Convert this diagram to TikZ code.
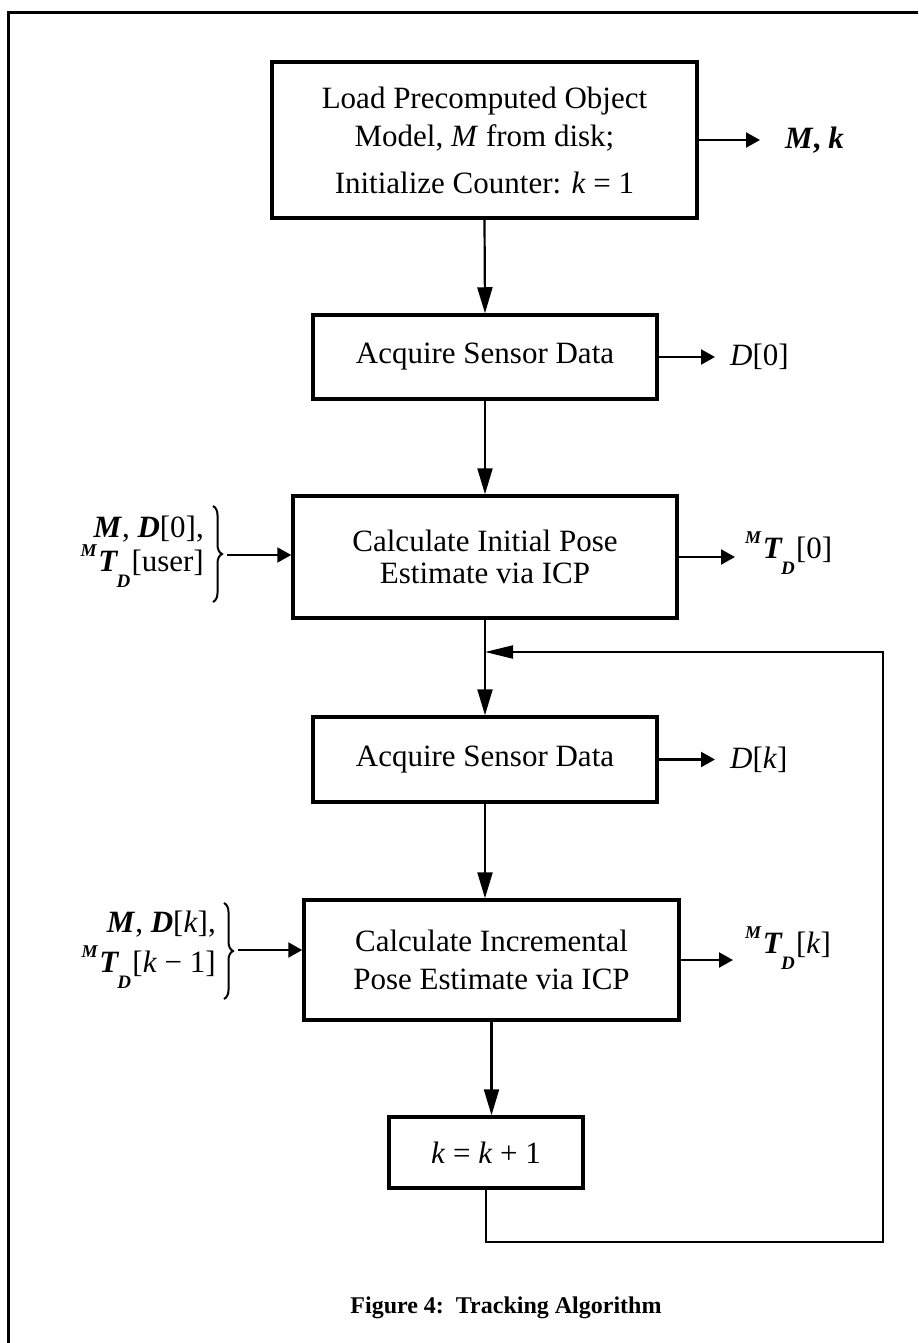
\documentclass[tikz,border=0pt]{standalone}
\usepackage{fontspec}
\setmainfont{Liberation Serif}
\usetikzlibrary{arrows.meta,decorations.pathreplacing}

% pose symbol with superscript M and subscript D
\newcommand{\posesym}[1]{\raisebox{.5em}{\fontsize{18}{18}\selectfont\textbf{\textit{M}}}\kern.04em\textbf{\textit{T}}\kern-.06em\raisebox{-.5em}{\fontsize{19}{19}\selectfont\textbf{\textit{D}}}\kern.04em[#1]}

\begin{document}
\begin{tikzpicture}[x=1pt, y=-1pt,
  every node/.style={font=\fontsize{31}{38}\selectfont, inner sep=0pt},
  stage/.style={draw, line width=3.5pt, align=center},
  flow/.style={line width=2.2pt, -{Triangle[length=26pt,width=15pt]}},
  outflow/.style={line width=2.2pt, -{Triangle[length=14pt,width=15pt]}},
  backflow/.style={line width=2pt, -{Triangle[length=28pt,width=13pt]}},
  curly/.style={decorate, decoration={brace, amplitude=9pt}, line width=2pt}]

\useasboundingbox (0,0) rectangle (918,1343);

% Frame
\draw[line width=3pt] (918,13) -- (8,13) -- (8,1343);

% Stages of the tracking loop
\node[stage, minimum width=425pt, minimum height=156pt] (load) at (484.5,140)
  {Load Precomputed Object\\Model, \textit{M} from disk;\\[9pt]Initialize Counter: \textit{k} = 1};
\node[stage, minimum width=344pt, minimum height=84pt] (acq0) at (485,357) {Acquire Sensor Data};
\node[stage, minimum width=384pt, minimum height=122pt, font=\fontsize{31}{32}\selectfont] (init) at (485,557)
  {Calculate Initial Pose\\Estimate via ICP};
\node[stage, minimum width=344pt, minimum height=85pt] (acqk) at (485,759.5) {Acquire Sensor Data};
\node[stage, minimum width=375pt, minimum height=120pt] (incr) at (491.5,960)
  {Calculate Incremental\\Pose Estimate via ICP};
\node[stage, minimum width=194pt, minimum height=71pt] (kinc) at (486,1152.5) {\textit{k} = \textit{k} + 1};

% Outputs
\node[anchor=west] (outMk) at (785,140) {\textbf{\textit{M}, \textit{k}}};
\node[anchor=west] (outD0) at (730,357) {\textit{D}[0]};
\node[anchor=west] (outT0) at (745,553) {\posesym{0}};
\node[anchor=west] (outDk) at (730,760) {\textit{D}[\textit{k}]};
\node[anchor=west] (outTk) at (745,948) {\posesym{\textit{k}}};

% Inputs
\node[anchor=east, align=right, font=\fontsize{31}{34}\selectfont] (inInit) at (204,552)
  {\textbf{\textit{M}}, \textbf{\textit{D}}[0],\\\posesym{user}};
\node[anchor=east, align=right, font=\fontsize{31}{40}\selectfont] (inIncr) at (216,950)
  {\textbf{\textit{M}}, \textbf{\textit{D}}[\textit{k}],\\\posesym{\textit{k} − 1}};
\draw[curly] (213,506) -- (213,602);
\draw[curly] (224,903) -- (224,999);
\coordinate (tipInit) at (227,555);
\coordinate (tipIncr) at (238,950);

% Main flow
\draw[flow] (load.south) -- (acq0.north);
\draw[flow] (acq0.south) -- (init.north);
\draw[flow] (init.south) -- (acqk.north);
\draw[flow] (acqk.south) -- (acqk.south |- incr.north);
\draw[flow] (incr.south) -- (incr.south |- kinc.north);

% Side arrows
\draw[outflow, shorten >=25pt] (load.east) -- (load.east -| outMk.west);
\draw[outflow, shorten >=15pt] (acq0.east) -- (acq0.east -| outD0.west);
\draw[outflow, shorten >=10pt] (init.east) -- (init.east -| outT0.west);
\draw[outflow, shorten >=15pt] (acqk.east) -- (acqk.east -| outDk.west);
\draw[outflow, shorten >=12pt] (incr.east) -- (incr.east -| outTk.west);
\draw[outflow] (tipInit) -- (tipInit -| init.west);
\draw[outflow] (tipIncr) -- (tipIncr -| incr.west);

% Feedback loop
\coordinate (join) at (init.south |- 0,652);
\coordinate (loopR) at (883,652);
\draw[backflow] (kinc.south) -- ++(0,52) -| (loopR) -- (join);

% Caption
\node[font=\bfseries\fontsize{24}{24}\selectfont] (caption) at (506,1308) {Figure 4:\ \ Tracking Algorithm};

\end{tikzpicture}
\end{document}
